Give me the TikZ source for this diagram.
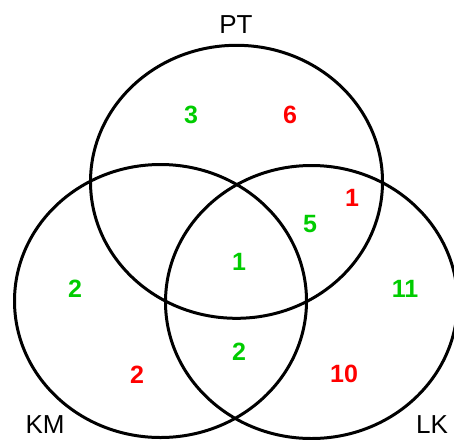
\documentclass[tikz,border=0pt]{standalone}
\usepackage{fontspec}
\setmainfont{Liberation Sans}
\definecolor{vgreen}{RGB}{0,204,0}
\definecolor{vred}{RGB}{255,0,0}
\begin{document}
\begin{tikzpicture}[x=1pt,y=-1pt,
  setring/.style={draw=black,line width=3pt},
  setname/.style={font=\fontsize{26}{26}\selectfont,inner sep=0pt},
  count/.style={font=\fontsize{25}{25}\selectfont\bfseries,inner sep=0pt},
  cg/.style={count,text=vgreen},
  cr/.style={count,text=vred}]
\useasboundingbox (0,0) rectangle (454,439);
% the three sets
\draw[setring] (236.5,181.8) ellipse [x radius=146, y radius=136.5];
\draw[setring] (160.5,301) ellipse [x radius=146, y radius=136.5];
\draw[setring] (311.5,302) ellipse [x radius=146, y radius=136.5];
% set names
\node[setname] (pt) at (236,25) {PT};
\node[setname] (km) at (45,425) {KM};
\node[setname] (lk) at (432,425) {LK};
% region counts
\node[cg] (a) at (191,115) {3};
\node[cr] (b) at (290,115) {6};
\node[cr] (c) at (352,198) {1};
\node[cg] (d) at (310,224) {5};
\node[cg] (e) at (239,262) {1};
\node[cg] (f) at (75,289) {2};
\node[cg] (g) at (405,289) {11};
\node[cg] (h) at (239,352) {2};
\node[cr] (i) at (137,375) {2};
\node[cr] (j) at (344,374) {10};
\end{tikzpicture}
\end{document}
